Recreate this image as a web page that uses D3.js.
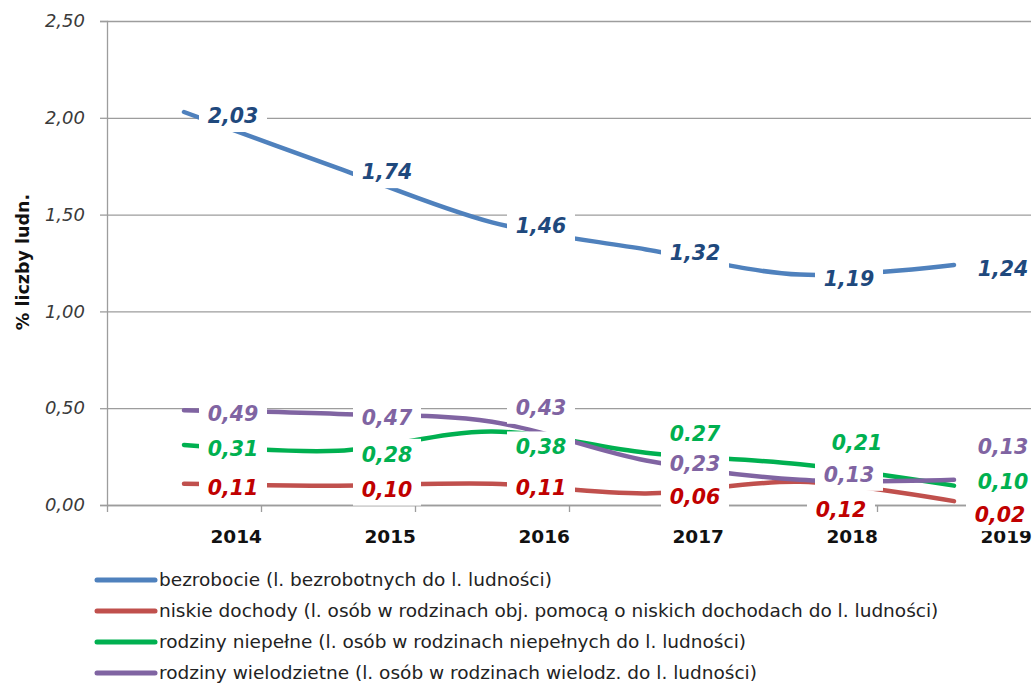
<!DOCTYPE html>
<html>
<head>
<meta charset="utf-8">
<script src="https://cdn.jsdelivr.net/npm/d3@7"></script>
<style>
  body { margin: 0; background: #fff; }
  svg { display: block; font-family: "DejaVu Sans", Verdana, sans-serif; }
</style>
</head>
<body>
<div id="plot"></div>
<script>
// data
const years = ["2014", "2015", "2016", "2017", "2018", "2019"];
const bezrobocie = [2.03, 1.74, 1.46, 1.32, 1.19, 1.24];
const niskieDochody = [0.11, 0.10, 0.11, 0.06, 0.12, 0.02];
const rodzinyNiepelne = [0.31, 0.28, 0.38, 0.27, 0.21, 0.10];
const rodzinyWielodzietne = [0.49, 0.47, 0.43, 0.23, 0.13, 0.13];
const yTicks = [0, 0.5, 1, 1.5, 2, 2.5];
const seriesNames = [
  "bezrobocie (l. bezrobotnych do l. ludności)",
  "niskie dochody (l. osób w rodzinach obj. pomocą o niskich dochodach do l. ludności)",
  "rodziny niepełne (l. osób w rodzinach niepełnych do l. ludności)",
  "rodziny wielodzietne (l. osób w rodzinach wielodz. do l. ludności)"
];
const yTitle = "% liczby ludn.";

const w = 1035;
const h = 683;
const margin = {top: 21, right: 4, bottom: 178, left: 107};
const innerWidth = w - margin.left - margin.right;
const innerHeight = h - margin.top - margin.bottom;

const series = [
  {name: seriesNames[0], values: bezrobocie, line: "#4f81bd", text: "#1f497d"},
  {name: seriesNames[1], values: niskieDochody, line: "#c0504d", text: "#c00000"},
  {name: seriesNames[2], values: rodzinyNiepelne, line: "#00b050", text: "#00b050"},
  {name: seriesNames[3], values: rodzinyWielodzietne, line: "#8064a2", text: "#8064a2"}
];

// manual label nudges (pixels), like dragged labels in the original
const labelDy = [
  [0, 0, 0, 0, 0, 0],
  [0, 0, 0, 0, 24, 10],
  [0, 0, 12, -23, -25, -8],
  [0, 0, -18, 0, -9, -37]
];
const labelDx = [
  [0, 0, 0, 0, 0, 0],
  [0, 0, 0, 0, -8, -3],
  [0, 0, 0, 0, 8, 0],
  [0, 0, 0, 0, 0, 0]
];
// the reference shows this one label with a dot
const labelOverride = {"2-3": "0.27"};

const pl = d3.formatLocale({decimal: ",", thousands: " ", grouping: [3], currency: ["", " zł"]});
const fmt = pl.format(".2f");

const svg = d3.select("div#plot")
  .append("svg")
    .attr("width", w)
    .attr("height", h);

const x = d3.scaleBand()
    .domain(years)
    .range([margin.left, margin.left + innerWidth])
    .paddingInner(0)
    .paddingOuter(0);

const xEdge = d3.scaleLinear()
    .domain([0, years.length])
    .range([margin.left, margin.left + innerWidth]);

const y = d3.scaleLinear()
    .domain([0, 2.5])
    .range([margin.top + innerHeight, margin.top]);

const cx = d => x(d) + x.bandwidth() / 2;

// gridlines
svg.append("g")
    .attr("class", "grid")
    .attr("transform", `translate(${margin.left},0)`)
    .call(d3.axisLeft(y).tickValues(yTicks).tickSize(-innerWidth).tickFormat(""))
    .call(g => g.select(".domain").remove())
    .call(g => g.selectAll("line").attr("stroke", "#9d9d9d").attr("stroke-width", 1.3));

// y axis
svg.append("g")
    .attr("class", "yAxis")
    .attr("transform", `translate(${margin.left},0)`)
    .call(d3.axisLeft(y).tickValues(yTicks).tickSize(7).tickPadding(15).tickFormat(fmt))
    .call(g => g.select(".domain").attr("stroke", "#9d9d9d").attr("stroke-width", 1.3))
    .call(g => g.selectAll(".tick line").attr("stroke", "#9d9d9d").attr("stroke-width", 1.3))
    .call(g => g.selectAll("text")
        .attr("font-family", "DejaVu Sans, sans-serif")
        .attr("font-size", 18)
        .attr("font-style", "italic")
        .attr("fill", "#3a3a3a"));

// x axis, ticks between categories
svg.append("g")
    .attr("class", "xAxis")
    .attr("transform", `translate(0,${margin.top + innerHeight})`)
    .call(d3.axisBottom(xEdge).tickValues(d3.range(years.length + 1)).tickSize(7).tickSizeOuter(0).tickFormat(""))
    .call(g => g.select(".domain").attr("stroke", "#9d9d9d").attr("stroke-width", 1.3))
    .call(g => g.selectAll(".tick line").attr("stroke", "#9d9d9d").attr("stroke-width", 1.3));

svg.append("g")
    .selectAll("text")
    .data(years)
    .join("text")
      .attr("x", d => x(d) + x.bandwidth() + 1)
      .attr("y", margin.top + innerHeight + 38)
      .attr("text-anchor", "end")
      .attr("font-size", 18.5)
      .attr("font-weight", "bold")
      .attr("fill", "#111")
      .text(d => d);

// y title
svg.append("text")
    .attr("transform", `translate(29,262) rotate(-90)`)
    .attr("text-anchor", "middle")
    .attr("font-size", 17.5)
    .attr("font-weight", "bold")
    .attr("fill", "#111")
    .text(yTitle);

// lines
const line = d3.line()
    .x((d, i) => cx(years[i]))
    .y(d => y(d))
    .curve(d3.curveCatmullRom.alpha(0));

svg.append("g")
    .selectAll("path")
    .data(series)
    .join("path")
      .attr("d", d => line(d.values))
      .attr("fill", "none")
      .attr("stroke", d => d.line)
      .attr("stroke-width", 4.5)
      .attr("stroke-linecap", "round")
      .attr("stroke-linejoin", "round");

// data labels with white boxes
const labels = [];
series.forEach((s, si) => {
  s.values.forEach((v, i) => {
    labels.push({
      x: cx(years[i]) + 49 + labelDx[si][i],
      y: y(v) + 4 + labelDy[si][i],
      text: labelOverride[si + "-" + i] || fmt(v),
      color: s.text
    });
  });
});

svg.append("g")
    .selectAll("rect")
    .data(labels)
    .join("rect")
      .attr("x", d => d.x - 34)
      .attr("y", d => d.y - 16)
      .attr("width", 68)
      .attr("height", 32)
      .attr("fill", "#fff");

svg.append("g")
    .selectAll("text")
    .data(labels)
    .join("text")
      .attr("x", d => d.x)
      .attr("y", d => d.y + 7)
      .attr("text-anchor", "middle")
      .attr("font-size", 20.5)
      .attr("font-weight", "bold")
      .attr("font-style", "italic")
      .attr("fill", d => d.color)
      .text(d => d.text);

// legend
const legend = svg.append("g")
    .selectAll("g")
    .data(series)
    .join("g")
      .attr("transform", (d, i) => `translate(97,${580 + i * 31})`);

legend.append("line")
    .attr("x1", 0)
    .attr("x2", 58)
    .attr("stroke", d => d.line)
    .attr("stroke-width", 5)
    .attr("stroke-linecap", "round");

legend.append("text")
    .attr("x", 62)
    .attr("y", 6)
    .attr("font-size", 18.5)
    .attr("fill", "#222")
    .text(d => d.name);
</script>
</body>
</html>
